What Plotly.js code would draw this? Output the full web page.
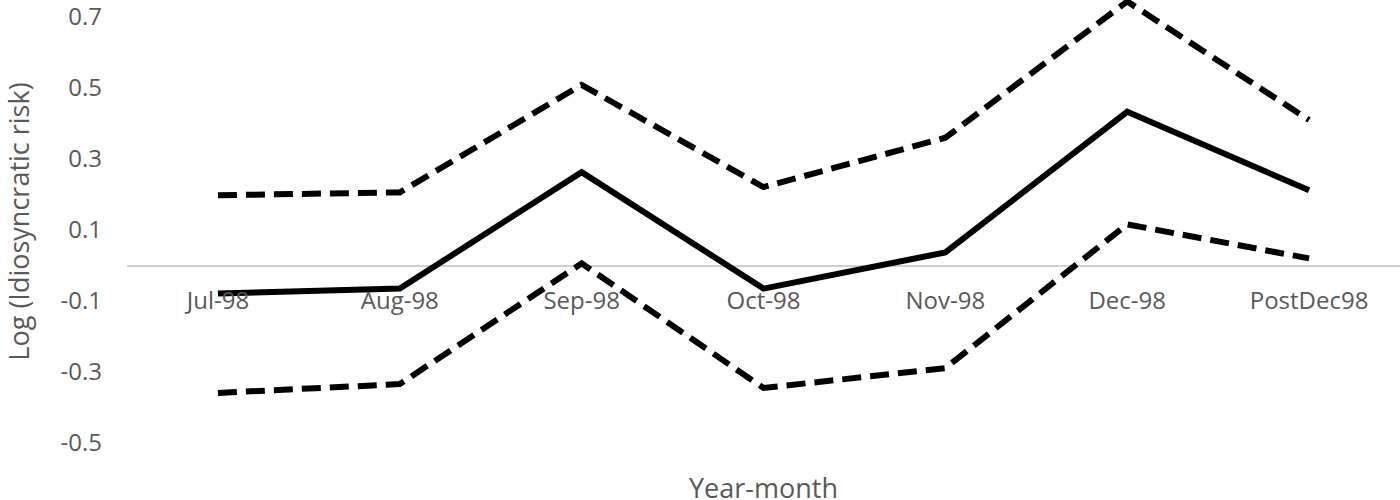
<!DOCTYPE html>
<html>
<head>
<meta charset="utf-8">
<script src="https://cdn.plot.ly/plotly-3.0.1.min.js"></script>
<style>
  html, body { margin: 0; padding: 0; background: #fff; }
  #chart { width: 1400px; height: 500px; }
</style>
</head>
<body>
<div id="chart"></div>
<script>
// ─────────────────────────────
// Datos
// ─────────────────────────────
const months = ['Jul-98', 'Aug-98', 'Sep-98', 'Oct-98', 'Nov-98', 'Dec-98', 'PostDec98'];
const estimate = [-0.079, -0.065, 0.263, -0.065, 0.037, 0.433, 0.212];
const upperBand = [0.198, 0.206, 0.509, 0.221, 0.36, 0.744, 0.41];
const lowerBand = [-0.359, -0.334, 0.006, -0.345, -0.289, 0.116, 0.02];
const yTicks = [-0.5, -0.3, -0.1, 0.1, 0.3, 0.5, 0.7];

const yRange = [-0.5, 0.748];
const grey = '#595959';
const font = 'Open Sans, sans-serif';

// ─────────────────────────────
// Trazas
// ─────────────────────────────
const dashStyle = { color: '#000', width: 6, dash: '19px,9px' };

const traces = [
  { x: months, y: upperBand, mode: 'lines', line: dashStyle, hoverinfo: 'none' },
  { x: months, y: estimate, mode: 'lines', line: { color: '#000', width: 6 }, hoverinfo: 'none' },
  { x: months, y: lowerBand, mode: 'lines', line: dashStyle, hoverinfo: 'none' }
];

// el eje x cruza en cero
const zeroPos = (0 - yRange[0]) / (yRange[1] - yRange[0]);

const layout = {
  width: 1400,
  height: 500,
  margin: { l: 127, r: 0, t: 0, b: 57 },
  paper_bgcolor: '#fff',
  plot_bgcolor: '#fff',
  showlegend: false,
  font: { family: font, color: grey, size: 24 },
  xaxis: {
    type: 'category',
    range: [-0.5, 6.5],
    anchor: 'free',
    position: zeroPos,
    showline: false,
    showgrid: false,
    zeroline: false,
    ticks: '',
    ticklabelstandoff: 18,
    tickfont: { family: font, size: 24, color: grey }
  },
  yaxis: {
    range: yRange,
    tickvals: yTicks,
    ticktext: yTicks.map(v => v.toFixed(1)),
    ticklabeloverflow: 'allow',
    showgrid: false,
    showline: false,
    zeroline: true,
    zerolinecolor: '#d0d0d0',
    zerolinewidth: 2,
    ticks: '',
    ticklabelstandoff: 24,
    tickfont: { family: font, size: 24, color: grey },
    title: { text: 'Log (Idiosyncratic risk)', font: { family: font, size: 27, color: grey }, standoff: 36 }
  },
  annotations: [{
    text: 'Year-month',
    xref: 'paper', yref: 'paper',
    x: 0.5, y: 0, yshift: -44,
    yanchor: 'middle', showarrow: false,
    font: { family: font, size: 27, color: grey }
  }]
};

Plotly.newPlot('chart', traces, layout, { staticPlot: true });
</script>
</body>
</html>
